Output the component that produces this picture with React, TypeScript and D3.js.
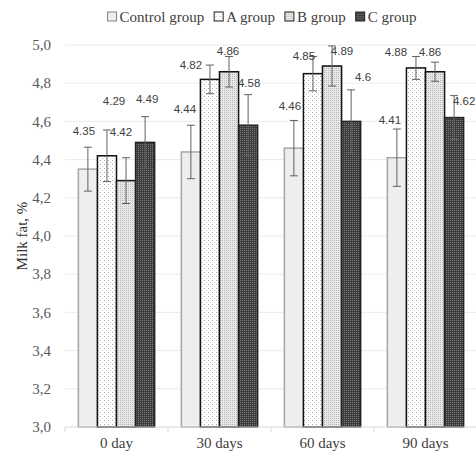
import React, { useEffect, useRef } from "react";
import * as d3 from "d3";

const categories = ["0 day", "30 days", "60 days", "90 days"];
const groups = ["Control group", "A group", "B group", "C group"];
// values per category, one per group
const controlVals = [4.35, 4.44, 4.46, 4.41];
const aVals = [4.42, 4.82, 4.85, 4.88];
const bVals = [4.29, 4.86, 4.89, 4.86];
const cVals = [4.49, 4.58, 4.6, 4.62];
// error bar half widths
const controlErr = [0.115, 0.14, 0.145, 0.15];
const aErr = [0.135, 0.075, 0.09, 0.06];
const bErr = [0.12, 0.08, 0.105, 0.05];
const cErr = [0.135, 0.16, 0.165, 0.115];
const yTicks = [3.0, 3.2, 3.4, 3.6, 3.8, 4.0, 4.2, 4.4, 4.6, 4.8, 5.0];

// label nudges (px) relative to bar centre / error bar top, [category][group]
const labelNudge = [
  [[-4, -16], [14, 2], [-12, -57], [2, -18]],
  [[-6, -16], [-19, 0], [-1, -5], [1, -12]],
  [[-4, -14], [-9, 0], [10, 5], [12, -13]],
  [[-7, -9], [-20, -4], [-5, -10], [10, 5]],
];

const SERIF = "'Liberation Serif', 'Times New Roman', 'DejaVu Serif', serif";

const App = () => {
  const ref = useRef<SVGSVGElement>(null);

  useEffect(() => {
    const width = 476;
    const height = 454;
    const margin = { top: 45, left: 65, bottom: 27, right: -1 };
    const svg = d3.select(ref.current).attr("width", width).attr("height", height);
    svg.selectAll("*").remove();

    const defs = svg.append("defs");
    // A: sparse dots on white
    const pA = defs.append("pattern").attr("id", "patA").attr("patternUnits", "userSpaceOnUse")
      .attr("width", 4).attr("height", 4);
    pA.append("rect").attr("width", 4).attr("height", 4).attr("fill", "#ffffff");
    pA.append("rect").attr("x", 0).attr("y", 0).attr("width", 1).attr("height", 1).attr("fill", "#a8a8a8");
    pA.append("rect").attr("x", 2).attr("y", 2).attr("width", 1).attr("height", 1).attr("fill", "#cfcfcf");
    // B: fine light dots
    const pB = defs.append("pattern").attr("id", "patB").attr("patternUnits", "userSpaceOnUse")
      .attr("width", 2).attr("height", 2);
    pB.append("rect").attr("width", 2).attr("height", 2).attr("fill", "#e8e8e8");
    pB.append("rect").attr("x", 0).attr("y", 0).attr("width", 1).attr("height", 1).attr("fill", "#b8b8b8");
    // C: dark checker
    const pC = defs.append("pattern").attr("id", "patC").attr("patternUnits", "userSpaceOnUse")
      .attr("width", 2).attr("height", 2);
    pC.append("rect").attr("width", 2).attr("height", 2).attr("fill", "#3c3c3c");
    pC.append("rect").attr("x", 0).attr("y", 0).attr("width", 1).attr("height", 1).attr("fill", "#7a7a7a");

    const fills = ["#eeeeee", "url(#patA)", "url(#patB)", "url(#patC)"];
    const strokes = ["#a6a6a6", "#111111", "#111111", "#222222"];
    const vals = [controlVals, aVals, bVals, cVals];
    const errs = [controlErr, aErr, bErr, cErr];

    const x = d3.scaleBand().domain(categories).range([margin.left, width - margin.right]);
    const xi = d3.scaleBand().domain(groups).range([0, x.bandwidth()]).paddingOuter(0.7);
    const y = d3.scaleLinear().domain([3, 5]).range([height - margin.bottom, margin.top]);

    // gridlines
    svg.append("g").selectAll("line").data(yTicks.slice(1)).enter().append("line")
      .attr("x1", margin.left).attr("x2", width)
      .attr("y1", (d) => y(d)).attr("y2", (d) => y(d))
      .attr("stroke", "#ececec").attr("stroke-width", 1);

    // y tick labels
    svg.append("g").selectAll("text").data(yTicks).enter().append("text")
      .attr("x", 51).attr("y", (d) => y(d)).attr("dy", "0.35em")
      .attr("text-anchor", "end")
      .style("font-family", SERIF).style("font-size", "15px")
      .attr("fill", "#595959")
      .text((d) => d3.format(".1f")(d).replace(".", ","));

    // y title
    svg.append("text")
      .attr("transform", `translate(22, ${(y(3) + y(5)) / 2}) rotate(-90)`)
      .attr("text-anchor", "middle").attr("dy", "0.35em")
      .style("font-family", SERIF).style("font-size", "15px")
      .attr("fill", "#333333")
      .text("Milk fat, %");

    // bars
    const g = svg.append("g");
    categories.forEach((cat, ci) => {
      groups.forEach((grp, gi) => {
        const v = vals[gi][ci];
        g.append("rect")
          .attr("x", x(cat)! + xi(grp)!)
          .attr("y", y(v))
          .attr("width", xi.bandwidth())
          .attr("height", y(3) - y(v))
          .attr("fill", fills[gi])
          .attr("stroke", strokes[gi])
          .attr("stroke-width", 1.5);
      });
    });

    // x axis line and ticks
    svg.append("line").attr("x1", margin.left).attr("x2", width)
      .attr("y1", y(3)).attr("y2", y(3)).attr("stroke", "#d9d9d9");
    svg.append("g").selectAll("line").data(categories.concat(["end"])).enter().append("line")
      .attr("x1", (d, i) => margin.left + i * x.bandwidth())
      .attr("x2", (d, i) => margin.left + i * x.bandwidth())
      .attr("y1", y(3)).attr("y2", y(3) + 5).attr("stroke", "#d9d9d9");

    svg.append("g").selectAll("text").data(categories).enter().append("text")
      .attr("x", (d) => x(d)! + x.bandwidth() / 2)
      .attr("y", 443).attr("dy", "0.35em").attr("text-anchor", "middle")
      .style("font-family", SERIF).style("font-size", "15px")
      .attr("fill", "#404040")
      .text((d) => d);

    // error bars
    const eb = svg.append("g").attr("stroke", "#606060").attr("stroke-width", 1);
    categories.forEach((cat, ci) => {
      groups.forEach((grp, gi) => {
        const v = vals[gi][ci];
        const e = errs[gi][ci];
        const cx = x(cat)! + xi(grp)! + xi.bandwidth() / 2;
        eb.append("line").attr("x1", cx).attr("x2", cx).attr("y1", y(v + e)).attr("y2", y(v - e));
        eb.append("line").attr("x1", cx - 4).attr("x2", cx + 4).attr("y1", y(v + e)).attr("y2", y(v + e));
        eb.append("line").attr("x1", cx - 4).attr("x2", cx + 4).attr("y1", y(v - e)).attr("y2", y(v - e));
      });
    });

    // data labels
    categories.forEach((cat, ci) => {
      groups.forEach((grp, gi) => {
        const v = vals[gi][ci];
        const e = errs[gi][ci];
        const cx = x(cat)! + xi(grp)! + xi.bandwidth() / 2;
        const [dx, dy] = labelNudge[ci][gi];
        svg.append("text")
          .attr("x", cx + dx).attr("y", y(v + e) + dy).attr("dy", "0.35em")
          .attr("text-anchor", "middle")
          .style("font-family", "'Liberation Sans', Arial, sans-serif").style("font-size", "11.5px")
          .attr("fill", "#404040")
          .text(String(v));
      });
    });

    // legend, laid out in a row from measured text widths
    const lg = svg.append("g");
    let lx = 0;
    groups.forEach((grp, gi) => {
      lg.append("rect").attr("x", lx).attr("y", 12).attr("width", 9).attr("height", 9)
        .attr("fill", fills[gi]).attr("stroke", gi === 0 ? "#808080" : "#222").attr("stroke-width", 1);
      const t = lg.append("text").attr("x", lx + 12).attr("y", 17).attr("dy", "0.35em")
        .style("font-family", SERIF).style("font-size", "15px")
        .attr("fill", "#404040")
        .text(grp);
      const w = (t.node() as SVGTextElement).getComputedTextLength();
      lx += 12 + w + 10;
    });
    const total = lx - 10;
    lg.attr("transform", `translate(${262 - total / 2}, 0)`);
  }, []);

  return (
    <div style={{ position: "absolute", left: 0, top: 0 }}>
      <svg ref={ref} style={{ display: "block" }}></svg>
    </div>
  );
};

export default App;
